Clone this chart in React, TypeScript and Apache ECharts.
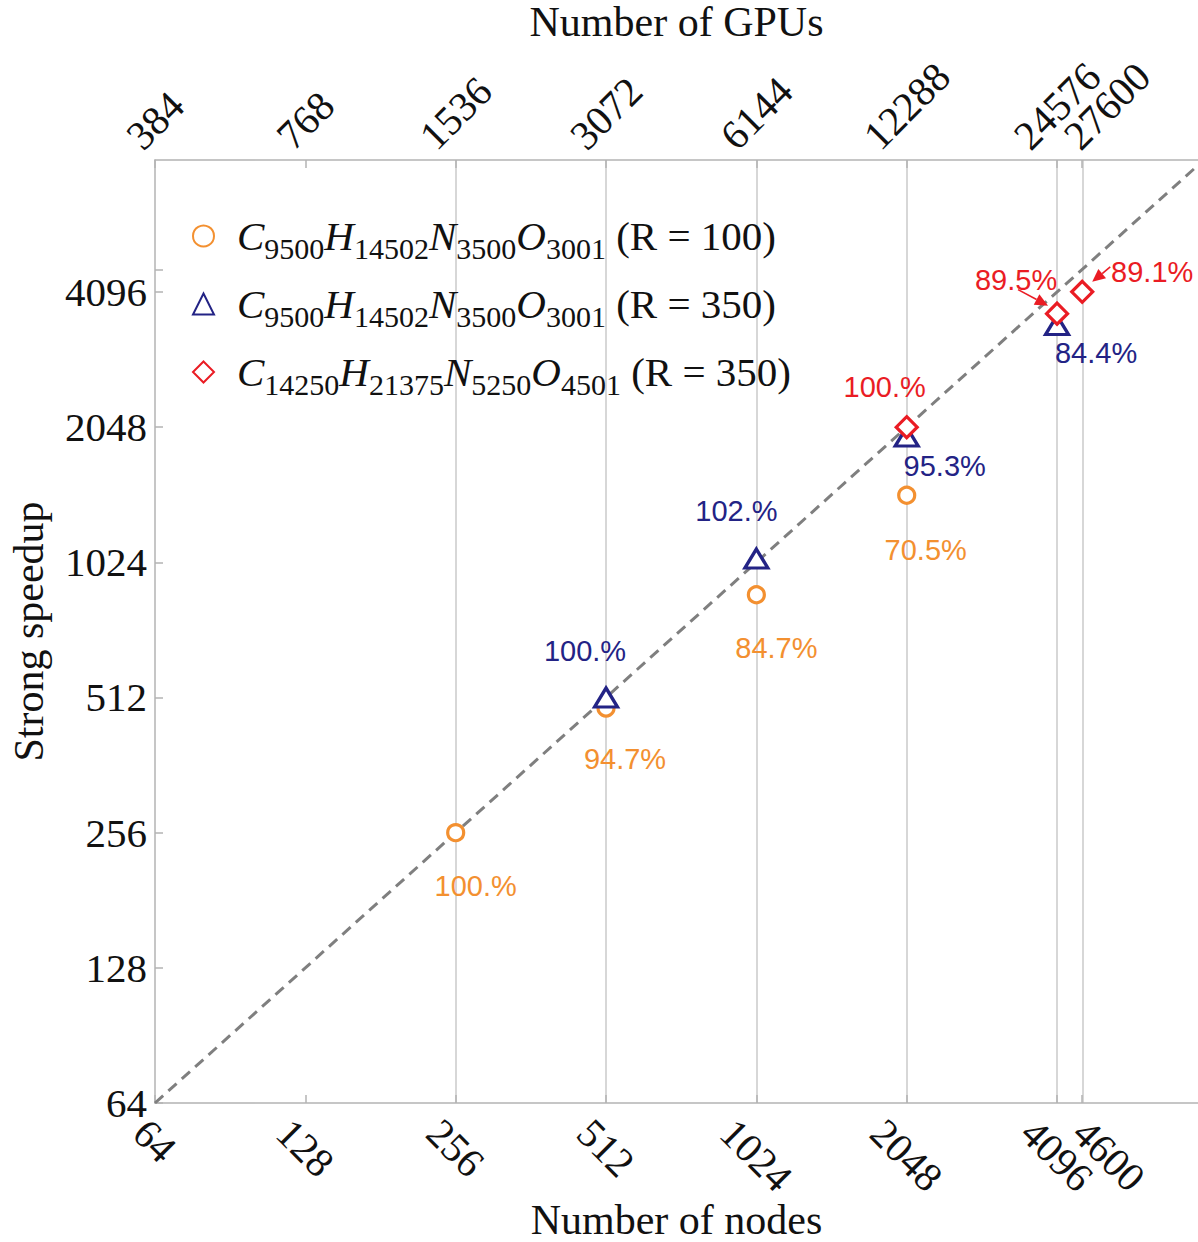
import React, { useEffect, useRef } from 'react';
import * as echarts from 'echarts';

// ---------- data ----------
const nodeTicks = [64, 128, 256, 512, 1024, 2048, 4096, 4600];
const nodeLabelTicks = [64, 128, 256, 512, 1024, 2048, 4096];
const nodeExtraLabelTicks = [4600];
const gpusPerNode = 6;
const speedupLabelTicks = [64, 128, 256, 512, 1024, 2048, 4096];
const speedupTicks = [64, 128, 256, 512, 1024, 2048, 4096, 4600];
const gridNodes = [256, 512, 1024, 2048, 4096, 4600];
const nodesMax = 7845;
const speedupMax = 8060;
const idealLine = [64, 8192];

const r100Nodes = [256, 512, 1024, 2048];
const r100Speedup = [256, 485, 867, 1444];
const r100Eff = ['100.%', '94.7%', '84.7%', '70.5%'];

const r350Nodes = [512, 1024, 2048, 4096];
const r350Speedup = [512, 1044, 1952, 3457];
const r350Eff = ['100.%', '102.%', '95.3%', '84.4%'];

const bigNodes = [2048, 4096, 4600];
const bigSpeedup = [2048, 3666, 4099];
const bigEff = ['100.%', '89.5%', '89.1%'];

const r100Formula = [['C', '9500'], ['H', '14502'], ['N', '3500'], ['O', '3001']];
const r100Tag = '(R = 100)';
const r350Formula = [['C', '9500'], ['H', '14502'], ['N', '3500'], ['O', '3001']];
const r350Tag = '(R = 350)';
const bigFormula = [['C', '14250'], ['H', '21375'], ['N', '5250'], ['O', '4501']];
const bigTag = '(R = 350)';

// ---------- styles ----------
const ORANGE = '#F39030';
const BLUE = '#232385';
const RED = '#EA1C24';
const AXIS = '#b3b3b3';
const GRID = '#cacaca';
const SERIF = '"Liberation Serif", "DejaVu Serif", serif';
const SANS = '"Liberation Sans", Arial, sans-serif';
const BIG = 41;

const r100Offsets = [[20, 53], [19, 51], [20, 53], [19, 55]];
const r350Offsets = [[-21, -46], [-20, -48], [38, 29], [39, 28]];
const bigOffsets = [[-22, -40], [-41, -34], [70, -20]];
const bigArrows: (number[] | null)[] = [null, [-39, -24, -9, -8], [28, -25, 10, -10]];

const log2 = (v: number) => Math.log2(v);

function formulaName(f: string[][], tag: string) {
  return f.map((p) => p[0] + p[1]).join('') + ' ' + tag;
}
function formulaRich(f: string[][], tag: string) {
  return f.map((p) => `{el|${p[0]}}{sub|${p[1]}}`).join('') + `{tx| ${tag}}`;
}

const r100Name = formulaName(r100Formula, r100Tag);
const r350Name = formulaName(r350Formula, r350Tag);
const bigName = formulaName(bigFormula, bigTag);
const legendMap: Record<string, string> = {
  [r100Name]: formulaRich(r100Formula, r100Tag),
  [r350Name]: formulaRich(r350Formula, r350Tag),
  [bigName]: formulaRich(bigFormula, bigTag),
};

const DIGIT_W = BIG / 2;
function axisRich() {
  const rich: Record<string, any> = {};
  const base = { fontSize: BIG, fontFamily: SERIF, color: '#111' };
  for (let n = 1; n <= 6; n++) {
    const w = n * DIGIT_W;
    rich['b' + n] = { ...base, padding: [w / 2, 0, 0, w / 2] };
    rich['t' + n] = { ...base, padding: [0, 0, w / 2, w / 2] };
  }
  rich.bs = { ...base, padding: [3, 0, 0, 79] };
  rich.ts = { ...base, padding: [0, 0, 16, 86] };
  return rich;
}

function points(xs: number[], ys: number[], labels: string[], offsets: number[][]) {
  return xs.map((x, i) => ({
    value: [log2(x), log2(ys[i])],
    label: { formatter: labels[i], offset: offsets[i] },
  }));
}

const App: React.FC = () => {
  const ref = useRef<HTMLDivElement>(null);
  useEffect(() => {
    if (!ref.current) return;
    const chart = echarts.init(ref.current, undefined, { renderer: 'svg' });
    const rich = axisRich();
    const axisCommon = {
      type: 'value' as const,
      min: log2(64),
      max: log2(nodesMax),
      splitLine: { show: false },
      nameMoveOverlap: false,
      axisLine: { show: true, lineStyle: { color: AXIS, width: 1.5 } },
      axisTick: { show: true, inside: true, length: 8, lineStyle: { color: AXIS, width: 1.5 } },
    };
    const nameStyle = { fontFamily: SERIF, fontSize: 42, color: '#111' };
    const bottomFormatter = (v: number) => {
      const s = String(Math.round(Math.pow(2, v)));
      const st = s === '4600' ? 'bs' : 'b' + s.length;
      return `{${st}|${s}}`;
    };
    const topFormatter = (v: number) => {
      const n = Math.round(Math.pow(2, v));
      const s = String(n * gpusPerNode);
      const st = n === 4600 ? 'ts' : 't' + s.length;
      return `{${st}|${s}}`;
    };
    const xLabel = (values: number[], top: boolean) => ({
      customValues: values.map(log2),
      showMinLabel: true,
      showMaxLabel: true,
      hideOverlap: false,
      rotate: -45,
      align: 'center',
      verticalAlign: 'middle',
      margin: top ? 18 : 23,
      rich,
      formatter: top ? topFormatter : bottomFormatter,
    });
    const extraAxis = (position: 'top' | 'bottom') => ({
      ...axisCommon,
      position,
      axisLine: { show: false },
      axisTick: { show: false },
      axisLabel: xLabel(nodeExtraLabelTicks, position === 'top'),
    });
    const labelStyle = (color: string) => ({
      show: true,
      position: 'inside' as const,
      color,
      opacity: 1,
      fontFamily: SANS,
      fontSize: 29,
    });
    const option: any = {
      animation: false,
      backgroundColor: '#ffffff',
      grid: { left: 155, top: 160, right: 0, bottom: 139, containLabel: false, outerBoundsMode: 'none' },
      legend: {
        orient: 'vertical',
        left: 187,
        top: 204,
        itemWidth: 21,
        itemHeight: 21,
        itemGap: 14,
        data: [r100Name, r350Name, bigName],
        formatter: (name: string) => legendMap[name] || name,
        textStyle: {
          fontFamily: SERIF,
          fontSize: BIG,
          color: '#111',
          padding: [0, 0, 0, 18],
          rich: {
            el: { fontFamily: SERIF, fontSize: BIG, fontStyle: 'italic', color: '#111', lineHeight: 40 },
            sub: { fontFamily: SERIF, fontSize: 30, color: '#111', lineHeight: 28, padding: [24, 0, 0, 0] },
            tx: { fontFamily: SERIF, fontSize: BIG, color: '#111', lineHeight: 40 },
          },
        },
      },
      xAxis: [
        {
          ...axisCommon,
          position: 'bottom',
          name: 'Number of nodes',
          nameLocation: 'middle',
          nameGap: 96,
          nameTextStyle: nameStyle,
          axisTick: { ...axisCommon.axisTick, customValues: nodeTicks.map(log2) },
          axisLabel: xLabel(nodeLabelTicks, false),
        },
        {
          ...axisCommon,
          position: 'top',
          name: 'Number of GPUs',
          nameLocation: 'middle',
          nameGap: 117,
          nameTextStyle: nameStyle,
          axisTick: { ...axisCommon.axisTick, customValues: nodeTicks.map(log2) },
          axisLabel: xLabel(nodeLabelTicks, true),
        },
        extraAxis('bottom'),
        extraAxis('top'),
      ],
      yAxis: {
        ...axisCommon,
        position: 'left',
        max: log2(speedupMax),
        name: 'Strong speedup',
        nameLocation: 'middle',
        nameGap: 105,
        nameTextStyle: nameStyle,
        axisTick: { ...axisCommon.axisTick, customValues: speedupTicks.map(log2) },
        axisLabel: {
          customValues: speedupLabelTicks.map(log2),
          showMinLabel: true,
          showMaxLabel: true,
          margin: 8,
          fontFamily: SERIF,
          fontSize: BIG,
          color: '#111',
          formatter: (v: number) => String(Math.round(Math.pow(2, v))),
        },
      },
      series: [
        {
          type: 'line',
          name: 'ideal',
          xAxisIndex: 0,
          data: idealLine.map((v) => [log2(v), log2(v)]),
          showSymbol: false,
          symbol: 'none',
          clip: true,
          silent: true,
          z: 1,
          lineStyle: { color: '#7f7f7f', width: 3, type: [11, 7] },
          markLine: {
            silent: true,
            symbol: 'none',
            label: { show: false },
            lineStyle: { color: GRID, width: 1.5, type: 'solid', opacity: 1 },
            data: gridNodes.map((n) => ({ xAxis: log2(n) })),
            z: 0,
          },
        },
        {
          type: 'scatter',
          name: r100Name,
          xAxisIndex: 0,
          symbol: 'circle',
          symbolSize: 16,
          itemStyle: { color: '#ffffff', borderColor: ORANGE, borderWidth: 3.2, opacity: 1 },
          label: labelStyle(ORANGE),
          data: points(r100Nodes, r100Speedup, r100Eff, r100Offsets),
          z: 3,
        },
        {
          type: 'scatter',
          name: r350Name,
          xAxisIndex: 0,
          symbol: 'triangle',
          symbolSize: [23, 19],
          itemStyle: { color: '#ffffff', borderColor: BLUE, borderWidth: 3.2, opacity: 1 },
          label: labelStyle(BLUE),
          data: points(r350Nodes, r350Speedup, r350Eff, r350Offsets),
          z: 3,
        },
        {
          type: 'scatter',
          name: bigName,
          xAxisIndex: 0,
          symbol: 'diamond',
          symbolSize: 21,
          itemStyle: { color: '#ffffff', borderColor: RED, borderWidth: 3.2, opacity: 1 },
          label: labelStyle(RED),
          data: points(bigNodes, bigSpeedup, bigEff, bigOffsets),
          z: 4,
        },
        {
          type: 'custom',
          name: 'arrows',
          xAxisIndex: 0,
          silent: true,
          clip: false,
          z: 5,
          encode: { x: 0, y: 1 },
          data: bigNodes.map((n, i) => [log2(n), log2(bigSpeedup[i]), i]),
          renderItem: (_params: any, api: any) => {
            const a = bigArrows[api.value(2) as number];
            if (!a) return { type: 'group', children: [] };
            const p = api.coord([api.value(0), api.value(1)]);
            const x1 = p[0] + a[0];
            const y1 = p[1] + a[1];
            const x2 = p[0] + a[2];
            const y2 = p[1] + a[3];
            const dx = x2 - x1;
            const dy = y2 - y1;
            const L = Math.hypot(dx, dy);
            const ux = dx / L;
            const uy = dy / L;
            const hl = 13;
            const hw = 6;
            const bx = x2 - ux * hl;
            const by = y2 - uy * hl;
            return {
              type: 'group',
              children: [
                { type: 'line', shape: { x1, y1, x2: bx, y2: by }, style: { stroke: RED, lineWidth: 1.6 } },
                {
                  type: 'polygon',
                  shape: { points: [[x2, y2], [bx - uy * hw, by + ux * hw], [bx + uy * hw, by - ux * hw]] },
                  style: { fill: RED },
                },
              ],
            };
          },
        },
      ],
    };
    chart.setOption(option);
    return () => chart.dispose();
  }, []);
  return (
    <div
      ref={ref}
      style={{ position: 'absolute', left: 0, top: 0, width: 1198, height: 1242, background: '#fff' }}
    />
  );
};

export default App;
